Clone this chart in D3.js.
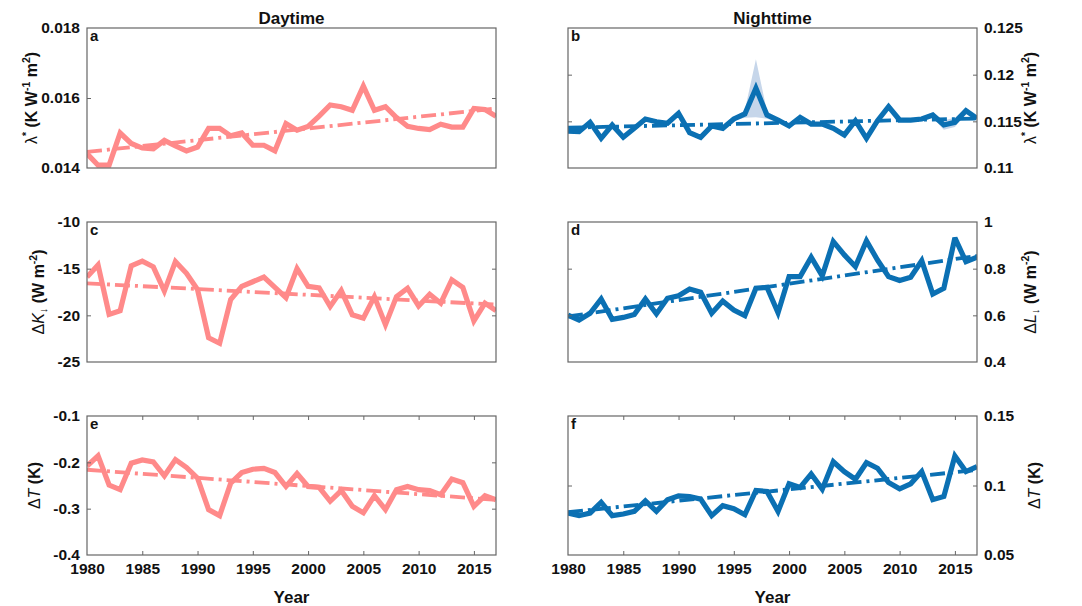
<!DOCTYPE html>
<html><head><meta charset="utf-8">
<script src="https://cdn.jsdelivr.net/npm/d3@7"></script>
<style>
body{margin:0;background:#fff;}
text{font-family:"Liberation Sans",Arial,sans-serif;}
</style></head>
<body><svg id="c" width="1082" height="606"></svg>
<script>
const years = d3.range(1980, 2018);
const xTicks = [1980,1985,1990,1995,2000,2005,2010,2015];

const lamDay = [0.01441,0.01408,0.01408,0.01500,0.01470,0.01457,0.01455,0.01479,0.01463,0.01449,0.01460,0.01513,0.01513,0.01492,0.01500,0.01465,0.01465,0.01449,0.01527,0.01508,0.01519,0.01548,0.01580,0.01575,0.01565,0.01634,0.01565,0.01575,0.01544,0.01519,0.01513,0.01510,0.01525,0.01517,0.01517,0.01570,0.01567,0.01548];
const lamNight = [0.11396,0.11389,0.11489,0.11318,0.11461,0.11329,0.11425,0.11525,0.11496,0.11479,0.11586,0.11379,0.11329,0.11450,0.11425,0.11525,0.11579,0.11854,0.11568,0.11514,0.11450,0.11543,0.11471,0.11471,0.11425,0.11354,0.11507,0.11318,0.11507,0.11657,0.11514,0.11514,0.11525,0.11568,0.11461,0.11489,0.11614,0.11532];
const lamNightSpread = [0.0002,0.0002,0.0002,0.0002,0.0002,0.0002,0.0002,0.0002,0.0002,0.0002,0.0002,0.0002,0.0002,0.0002,0.0002,0.0002,0.0004,0.0031,0.0004,0.0002,0.0002,0.0002,0.0002,0.0002,0.0002,0.0002,0.0002,0.0002,0.0002,0.0002,0.0002,0.0002,0.0002,0.0003,0.0005,0.0005,0.0003,0.0002];
const dKday = [-15.9,-14.6,-19.9,-19.5,-14.7,-14.2,-14.8,-17.4,-14.25,-15.5,-17.25,-22.4,-23.0,-18.3,-16.9,-16.4,-15.9,-17.0,-18.1,-15.0,-16.9,-17.05,-19.05,-17.35,-19.95,-20.3,-18.0,-21.0,-18.0,-17.1,-19.0,-17.75,-18.7,-16.2,-17.0,-20.6,-18.7,-19.5];
const dLnight = [0.601,0.58,0.609,0.67,0.583,0.591,0.604,0.67,0.606,0.673,0.684,0.713,0.699,0.609,0.661,0.623,0.599,0.716,0.72,0.611,0.766,0.766,0.849,0.769,0.916,0.859,0.809,0.919,0.837,0.766,0.749,0.763,0.834,0.691,0.716,0.932,0.83,0.849];
const dTday = [-0.208,-0.186,-0.249,-0.259,-0.202,-0.195,-0.199,-0.229,-0.194,-0.211,-0.234,-0.302,-0.315,-0.245,-0.222,-0.215,-0.213,-0.222,-0.252,-0.224,-0.252,-0.254,-0.284,-0.261,-0.295,-0.309,-0.272,-0.302,-0.259,-0.252,-0.259,-0.261,-0.27,-0.236,-0.244,-0.295,-0.272,-0.281];
const dTnight = [0.0802,0.0783,0.0802,0.0879,0.0783,0.0795,0.0814,0.089,0.0814,0.0898,0.0926,0.0921,0.0902,0.0783,0.0855,0.0833,0.079,0.0964,0.0957,0.0814,0.1012,0.0986,0.1083,0.0974,0.1171,0.11,0.1045,0.1164,0.1124,0.1021,0.0976,0.1012,0.11,0.0898,0.0921,0.1212,0.11,0.1136];

// trend line end points [value at 1980, value at 2017]
const trendA = [0.01446, 0.01570];
const trendB = [0.11432, 0.11530];
const trendC = [-16.57, -18.85];
const trendD = [0.595, 0.855];
const trendE = [-0.216, -0.281];
const trendF = [0.0808, 0.1112];

const ticksA = [0.014,0.016,0.018];
const ticksB = [0.11,0.115,0.12,0.125];
const ticksC = [-25,-20,-15,-10];
const ticksD = [0.4,0.6,0.8,1];
const ticksE = [-0.4,-0.3,-0.2,-0.1];
const ticksF = [0.05,0.1,0.15];

const PINK = "#ff8a8a", BLUE = "#0b70b3", BAND = "#c6d6ea";
const svg = d3.select("#c");
const colX = [[87,496],[568,977]];
const rowY = [[28,168],[222,362],[416,555]];

const panels = [
 {col:0,row:0,letter:"a",data:lamDay,trend:trendA,dom:[0.014,0.018],ticks:ticksA,color:PINK,fmt:d=>d.toFixed(3),label:"lam",lx:32},
 {col:1,row:0,letter:"b",data:lamNight,spread:lamNightSpread,trend:trendB,dom:[0.11,0.125],ticks:ticksB,color:BLUE,fmt:d=>String(+d.toFixed(3)),label:"lam",lx:1031},
 {col:0,row:1,letter:"c",data:dKday,trend:trendC,dom:[-25,-10],ticks:ticksC,color:PINK,fmt:d=>String(d),label:"K",lx:39},
 {col:1,row:1,letter:"d",data:dLnight,trend:trendD,dom:[0.4,1],ticks:ticksD,color:BLUE,fmt:d=>String(d),label:"L",lx:1031},
 {col:0,row:2,letter:"e",data:dTday,trend:trendE,dom:[-0.4,-0.1],ticks:ticksE,color:PINK,fmt:d=>String(d),label:"T",lx:35},
 {col:1,row:2,letter:"f",data:dTnight,trend:trendF,dom:[0.05,0.15],ticks:ticksF,color:BLUE,fmt:d=>String(d),label:"T",lx:1035}
];

function addLabel(g, kind){
  const t = g.append("text").attr("text-anchor","middle").attr("font-size",16).attr("font-weight","bold");
  if(kind==="lam"){
    t.append("tspan").attr("font-weight","normal").text("λ");
    t.append("tspan").attr("font-size",10.5).attr("dy",-7).text("*");
    t.append("tspan").attr("dy",7).text(" (K W");
    t.append("tspan").attr("font-size",10.5).attr("dy",-7).text("-1");
    t.append("tspan").attr("dy",7).text(" m");
    t.append("tspan").attr("font-size",10.5).attr("dy",-7).text("2");
    t.append("tspan").attr("dy",7).text(")");
  } else if(kind==="K" || kind==="L"){
    t.append("tspan").attr("font-weight","normal").text("Δ");
    t.append("tspan").attr("font-weight","normal").attr("font-style","italic").text(kind);
    t.append("tspan").attr("font-weight","normal").attr("font-size",11).attr("dy",3).text("↓");
    t.append("tspan").attr("dy",-3).text(" (W m");
    t.append("tspan").attr("font-size",10.5).attr("dy",-7).text("-2");
    t.append("tspan").attr("dy",7).text(")");
  } else {
    t.append("tspan").attr("font-weight","normal").text("Δ");
    t.append("tspan").attr("font-weight","normal").attr("font-style","italic").text("T");
    t.append("tspan").text(" (K)");
  }
  return t;
}

panels.forEach(p=>{
  const [x0,x1] = colX[p.col], [y0,y1] = rowY[p.row];
  const x = d3.scaleLinear().domain([1980,2017]).range([x0,x1]);
  const y = d3.scaleLinear().domain(p.dom).range([y1,y0]);
  const g = svg.append("g");
  const clipId = "clip"+p.letter;
  svg.append("clipPath").attr("id",clipId).append("rect").attr("x",x0).attr("y",y0).attr("width",x1-x0).attr("height",y1-y0);
  const pg = g.append("g").attr("clip-path",`url(#${clipId})`);
  if(p.spread){
    pg.append("path").datum(years.map((yr,i)=>[yr,p.data[i],p.spread[i]]))
      .attr("fill",BAND)
      .attr("d",d3.area().x(d=>x(d[0])).y0(d=>y(d[1]-d[2])).y1(d=>y(d[1]+d[2])));
  }
  pg.append("path").datum(years.map((yr,i)=>[yr,p.data[i]]))
    .attr("fill","none").attr("stroke",p.color).attr("stroke-width",5.2).attr("stroke-linejoin","miter").attr("stroke-miterlimit",3)
    .attr("d",d3.line().x(d=>x(d[0])).y(d=>y(d[1])));
  pg.append("path").datum([[1980,p.trend[0]],[2017,p.trend[1]]])
    .attr("fill","none").attr("stroke",p.color).attr("stroke-width",3.8).attr("stroke-dasharray","15,5,3,5")
    .attr("d",d3.line().x(d=>x(d[0])).y(d=>y(d[1])));

  // box
  g.append("rect").attr("x",x0).attr("y",y0).attr("width",x1-x0).attr("height",y1-y0)
    .attr("fill","none").attr("stroke","#666").attr("stroke-width",1.2);

  const inner = p.ticks.filter(v=>v!==p.dom[0] && v!==p.dom[1]);
  const axL = d3.axisLeft(y).tickValues(p.col===0?p.ticks:inner).tickSize(-4).tickPadding(7)
      .tickFormat(p.col===0?p.fmt:()=>"");
  const axR = d3.axisRight(y).tickValues(p.col===1?p.ticks:inner).tickSize(-4).tickPadding(7)
      .tickFormat(p.col===1?p.fmt:()=>"");
  const gl = g.append("g").attr("transform",`translate(${x0},0)`).call(axL);
  const gr = g.append("g").attr("transform",`translate(${x1},0)`).call(axR);
  [gl,gr].forEach(a=>{
    a.select(".domain").remove();
    a.selectAll(".tick line").attr("stroke","#666");
    a.selectAll(".tick").filter(v=>v===p.dom[0]||v===p.dom[1]).select("line").remove();
    a.selectAll("text").attr("font-size",15.5).attr("font-weight","bold").attr("fill","#111")
      .attr("font-family","Liberation Sans, Arial, sans-serif");
  });
  if(p.row===2){
    const axB = d3.axisBottom(x).tickValues(xTicks).tickSize(-4).tickPadding(8).tickFormat(d3.format("d"));
    const axT = d3.axisTop(x).tickValues(xTicks).tickSize(-4).tickFormat(()=>"");
    const gb = g.append("g").attr("transform",`translate(0,${y1})`).call(axB);
    const gt = g.append("g").attr("transform",`translate(0,${y0})`).call(axT);
    [gb,gt].forEach(a=>{
      a.select(".domain").remove();
      a.selectAll(".tick line").attr("stroke","#666");
      a.selectAll(".tick").filter(v=>v===1980).select("line").remove();
      a.selectAll("text").attr("font-size",15.5).attr("font-weight","bold").attr("fill","#111")
        .attr("font-family","Liberation Sans, Arial, sans-serif");
    });
    g.append("text").attr("x",(x0+x1)/2).attr("y",603).attr("text-anchor","middle")
      .attr("font-size",17).attr("font-weight","bold").attr("fill","#111").text("Year");
  }
  g.append("text").attr("x",x0+3).attr("y",y0+13).attr("font-size",15).attr("font-weight","bold").attr("fill","#111").text(p.letter);
  const cy = (y0+y1)/2;
  const lg = g.append("g").attr("transform",`translate(${p.lx},${cy}) rotate(-90)`);
  addLabel(lg,p.label).attr("fill","#111").attr("dy",5);
});

svg.append("text").attr("x",(colX[0][0]+colX[0][1])/2).attr("y",24).attr("text-anchor","middle")
  .attr("font-size",17).attr("font-weight","bold").attr("fill","#111").text("Daytime");
svg.append("text").attr("x",(colX[1][0]+colX[1][1])/2).attr("y",24).attr("text-anchor","middle")
  .attr("font-size",17).attr("font-weight","bold").attr("fill","#111").text("Nighttime");
</script></body></html>
